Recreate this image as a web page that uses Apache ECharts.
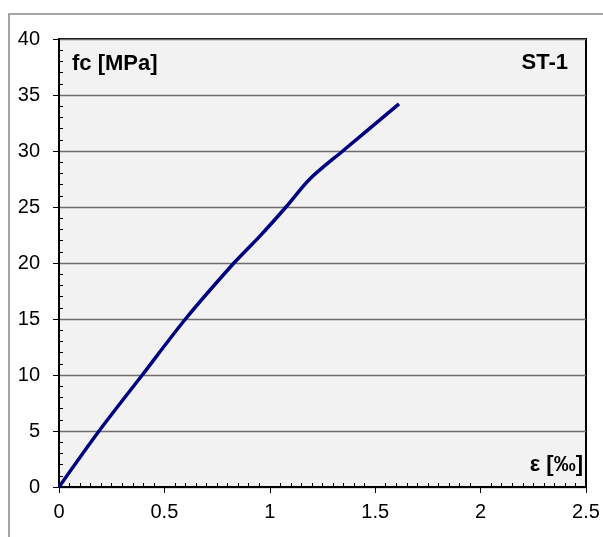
<!DOCTYPE html>
<html>
<head>
<meta charset="utf-8">
<script src="https://cdn.jsdelivr.net/npm/echarts@6/dist/echarts.min.js"></script>
<style>
  html, body { margin: 0; padding: 0; background: #fff; }
  #chart { width: 603px; height: 537px; }
</style>
</head>
<body>
<div id="chart"></div>
<script>
// strain [‰] vs stress fc [MPa], specimen ST-1
var strain = [0, 0.19, 0.395, 0.6, 0.83, 0.953, 1.077, 1.19, 1.346, 1.613];
var stress = [0, 5, 10, 15, 20, 22.4, 25, 27.5, 30, 34.2];

var xMin = 0, xMax = 2.5, xStep = 0.5;
var yMin = 0, yMax = 40, yStep = 5;

var font = '"Liberation Sans", Arial, sans-serif';

var pts = strain.map(function (x, i) { return [x, stress[i]]; });

var myChart = echarts.init(document.getElementById('chart'));
var option = {
    animation: false,
    backgroundColor: '#ffffff',
    textStyle: { fontFamily: font },
    grid: {
        left: 59, top: 39, right: 17, bottom: 50,
        show: true,
        backgroundColor: '#f2f2f2',
        borderColor: '#000',
        borderWidth: 2
    },
    // outer frame (only top and left edges visible)
    graphic: [{
        type: 'rect',
        shape: { x: 9, y: 14, width: 700, height: 700 },
        style: { fill: 'none', stroke: '#888', lineWidth: 1.5 },
        silent: true
    }, {
        type: 'text', x: 72, y: 64,
        style: { text: 'fc [MPa]', font: 'bold 22px ' + font, fill: '#000', align: 'left', verticalAlign: 'middle' }
    }, {
        type: 'text', x: 568, y: 63,
        style: { text: 'ST-1', font: 'bold 22px ' + font, fill: '#000', align: 'right', verticalAlign: 'middle' }
    }, {
        type: 'text', x: 583, y: 465,
        style: { text: 'ε [‰]', font: 'bold 22px ' + font, fill: '#000', align: 'right', verticalAlign: 'middle' }
    }],
    xAxis: {
        type: 'value',
        min: xMin, max: xMax, interval: xStep,
        axisLine: { lineStyle: { color: '#000', width: 2 } },
        axisTick: { show: true, length: 6, lineStyle: { color: '#000', width: 1 } },
        minorTick: { show: true, splitNumber: 10, length: -4, lineStyle: { color: '#000', width: 1 } },
        splitLine: { show: false },
        axisLabel: { color: '#000', fontSize: 20, margin: 15, fontFamily: font }
    },
    yAxis: {
        type: 'value',
        min: yMin, max: yMax, interval: yStep,
        axisLine: { show: true, lineStyle: { color: '#000', width: 2 } },
        axisTick: { show: true, length: 6, lineStyle: { color: '#000', width: 1 } },
        minorTick: { show: true, splitNumber: 5, length: -4, lineStyle: { color: '#000', width: 1 } },
        splitLine: { show: true, lineStyle: { color: '#6e6e6e', width: 1.4 } },
        axisLabel: { color: '#000', fontSize: 20, margin: 19, fontFamily: font }
    },
    series: [{
        type: 'line',
        data: pts,
        smooth: 0.3,
        symbol: 'none',
        lineStyle: { color: '#000080', width: 3.5 }
    }]
};
myChart.setOption(option);
</script>
</body>
</html>
